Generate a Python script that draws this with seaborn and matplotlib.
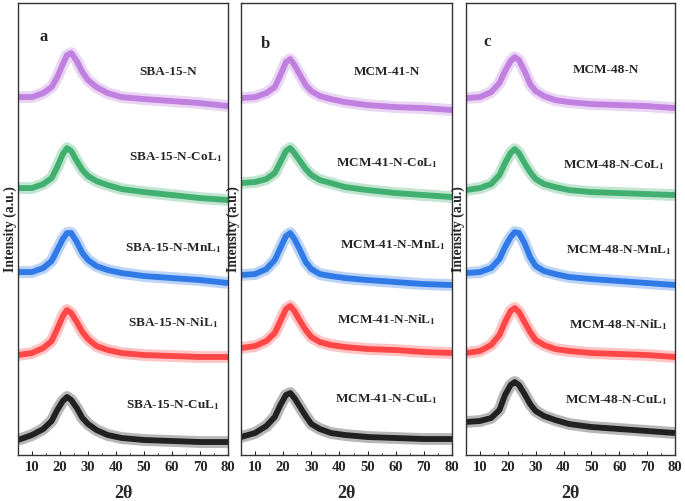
import numpy as np
import matplotlib.pyplot as plt
import pandas as pd
import seaborn as sns
from matplotlib.ticker import MultipleLocator

two_theta = [5, 10, 14, 17, 19, 21, 22.5, 24, 26, 28, 30, 33, 37, 42, 50, 60, 70, 80]

# panel a (SBA-15), stacked intensity (a.u.)
sba_N = [358, 358, 362, 368, 378, 391, 400, 402, 394, 383, 375, 368, 362, 358, 356, 354, 352, 349]
sba_Co = [267, 267, 271, 277, 288, 301, 307, 304, 294, 285, 279, 274, 270, 266, 263, 260, 257, 255]
sba_Mn = [183, 183, 187, 194, 205, 216, 222, 222, 213, 202, 195, 189, 185, 182, 179, 177, 175, 172]
sba_Ni = [100, 102, 107, 114, 126, 139, 145, 142, 133, 123, 116, 109, 105, 102, 100, 99, 98, 98]
sba_Cu = [15, 20, 26, 34, 45, 54, 58, 55, 47, 37, 31, 25, 20, 17, 15, 14, 13, 13]

# panel b (MCM-41)
m41_N = [357, 358, 362, 368, 380, 393, 396, 390, 380, 370, 364, 359, 356, 353, 350, 348, 347, 345]
m41_Co = [272, 273, 276, 282, 293, 304, 307, 302, 294, 286, 280, 275, 272, 268, 265, 262, 260, 258]
m41_Mn = [180, 181, 186, 195, 207, 219, 222, 216, 205, 193, 186, 181, 179, 177, 175, 173, 171, 170]
m41_Ni = [107, 109, 114, 122, 134, 146, 149, 144, 134, 125, 118, 113, 110, 108, 106, 105, 103, 102]
m41_Cu = [18, 22, 29, 38, 50, 60, 62, 57, 48, 39, 31, 26, 22, 20, 18, 17, 16, 16]

# panel c (MCM-48)
m48_N = [357, 358, 363, 372, 384, 394, 398, 395, 384, 371, 364, 359, 355, 353, 351, 350, 349, 347]
m48_Co = [265, 267, 271, 280, 292, 302, 306, 302, 292, 283, 276, 271, 268, 265, 263, 262, 261, 260]
m48_Mn = [182, 183, 187, 196, 208, 218, 223, 222, 212, 198, 189, 184, 181, 178, 176, 174, 172, 170]
m48_Ni = [102, 104, 110, 120, 133, 144, 147, 143, 133, 123, 115, 110, 106, 104, 102, 101, 100, 98]
m48_Cu = [33, 34, 37, 45, 60, 70, 73, 70, 61, 51, 44, 39, 35, 31, 28, 26, 24, 22]

metals = ["N", "CoL1", "MnL1", "NiL1", "CuL1"]
colors = ["#bb77dd", "#33aa66", "#2070e6", "#ff3a3a", "#111111"]

panels = [
    ("a", "SBA-15", [sba_N, sba_Co, sba_Mn, sba_Ni, sba_Cu]),
    ("b", "MCM-41", [m41_N, m41_Co, m41_Mn, m41_Ni, m41_Cu]),
    ("c", "MCM-48", [m48_N, m48_Co, m48_Mn, m48_Ni, m48_Cu]),
]

# label placement (axes fraction) per panel
label_x = [[0.715, 0.75, 0.74, 0.74, 0.74],
           [0.69, 0.69, 0.72, 0.69, 0.69],
           [0.67, 0.71, 0.73, 0.73, 0.72]]
label_y = [[0.847, 0.659, 0.458, 0.294, 0.111],
           [0.847, 0.646, 0.465, 0.299, 0.124],
           [0.852, 0.642, 0.454, 0.288, 0.122]]
letter_pos = [(0.12, 0.925), (0.114, 0.91), (0.10, 0.914)]

sns.set_style("white")
plt.rcParams["font.family"] = ["Liberation Serif", "DejaVu Serif"]
plt.rcParams["mathtext.fontset"] = "stix"

fig = plt.figure(figsize=(6.85, 5.01), dpi=100)
boxes = [(0.0263, 0.0918, 0.3066, 0.902),
         (0.3518, 0.0918, 0.308, 0.902),
         (0.6803, 0.0918, 0.3051, 0.902)]

for p, (letter, name, traces) in enumerate(panels):
    ax = fig.add_axes(boxes[p])
    for k, (vals, col) in enumerate(zip(traces, colors)):
        df = pd.DataFrame({"2theta": two_theta, "I": vals})
        # lighter fringe + dense core to mimic the noisy trace
        sns.lineplot(data=df, x="2theta", y="I", ax=ax, color=col, lw=8.5, alpha=0.3,
                     solid_joinstyle="round", solid_capstyle="butt")
        sns.lineplot(data=df, x="2theta", y="I", ax=ax, color=col, lw=4.2, alpha=0.9,
                     solid_joinstyle="round", solid_capstyle="butt")
        m = metals[k]
        if m == "N":
            txt = f"{name}-N"
        else:
            txt = f"{name}-N-{m[:-1]}$_\\mathbf{{1}}$"
        ax.text(label_x[p][k], label_y[p][k], txt, transform=ax.transAxes,
                ha="center", va="center", fontsize=9.5, fontweight="bold")
    ax.text(letter_pos[p][0], letter_pos[p][1], letter, transform=ax.transAxes,
            ha="center", va="center", fontsize=12, fontweight="bold")

    ax.set_xlim(5, 80)
    ax.set_ylim(0, 452)
    ax.set_yticks([])
    ax.xaxis.set_major_locator(MultipleLocator(10))
    ax.xaxis.set_minor_locator(MultipleLocator(5))
    ax.tick_params(axis="x", which="major", direction="in", length=3, width=0.8,
                   labelsize=10.5, pad=4, bottom=True)
    ax.tick_params(axis="x", which="minor", direction="in", length=1.5, width=0.6, bottom=True)
    for lab in ax.get_xticklabels():
        lab.set_fontweight("bold")
    ax.set_xlabel("2θ", fontsize=13, fontweight="bold", labelpad=8)
    ax.set_ylabel("Intensity (a.u.)", fontsize=9.8, fontweight="bold", labelpad=1)
    for s in ax.spines.values():
        s.set_color("#333333")
        s.set_linewidth(1.0)

fig.savefig("out.png", dpi=100)
